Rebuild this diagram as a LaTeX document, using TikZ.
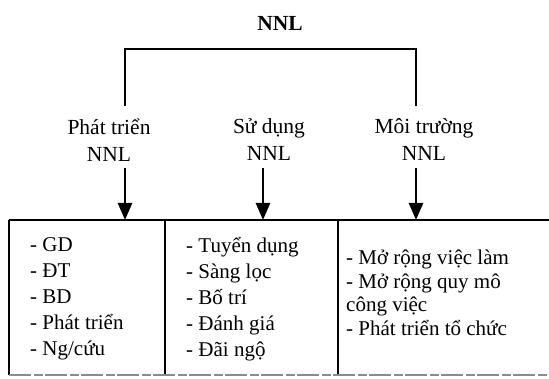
\documentclass[tikz,border=0pt]{standalone}
\usepackage{fontspec}
\setmainfont{Liberation Serif}
\usetikzlibrary{arrows.meta}
\begin{document}
\begin{tikzpicture}[x=1pt,y=1pt,
  txt/.style={inner sep=0pt,font=\fontsize{21.5}{27}\selectfont},
  head/.style={txt,align=center},
  list/.style={inner sep=0pt,font=\fontsize{21}{26}\selectfont,align=left,anchor=west},
  link/.style={line width=2.2pt},
  down/.style={line width=2.6pt,-{Triangle[length=17pt,width=14pt]}},
  frame/.style={line width=1.8pt},
  faint/.style={line width=1.3pt,draw=black!45,dash pattern=on 22pt off 3pt on 9pt off 2pt}]
\useasboundingbox (0,0) rectangle (549,379);

% root and the three branches
\node[txt,font=\fontsize{21.5}{27}\selectfont\bfseries] (root) at (280,356) {NNL};
\node[head] (dev) at (109,239) {Phát triển\\NNL};
\node[head] (use) at (269,239) {Sử dụng\\NNL};
\node[head] (env) at (424,239) {Môi trường\\NNL};

% bracket under the root
\coordinate (bl) at (125,273);
\coordinate (br) at (416,273);
\draw[link] (bl) -- (125,330) -- (416,330) -- (br);

% arrows into the table
\coordinate (a1) at (125,211);
\coordinate (a2) at (263,211);
\coordinate (a3) at (416,211);
\coordinate (t1) at (125,159);
\coordinate (t2) at (263,159);
\coordinate (t3) at (416,159);
\draw[down] (a1) -- (t1);
\draw[down] (a2) -- (t2);
\draw[down] (a3) -- (t3);

% table frame
\coordinate (tl) at (9,159);
\coordinate (tr) at (549,159);
\coordinate (bl2) at (9,4);
\coordinate (brr) at (549,4);
\draw[frame] (tl) -- (tr);
\draw[frame] (tl) -- (bl2);
\draw[frame] (165,159) -- (165,4);
\draw[frame] (338,159) -- (338,4);
\draw[faint] (bl2) -- (brr);

% cell contents
\node[list] (l1) at (30,80) {- GD\\- ĐT\\- BD\\- Phát triển\\- Ng/cứu};
\node[list] (l2) at (186,80) {- Tuyển dụng\\- Sàng lọc\\- Bố trí\\- Đánh giá\\- Đãi ngộ};
\node[list,font=\fontsize{21}{23.5}\selectfont] (l3) at (346,86) {- Mở rộng việc làm\\- Mở rộng quy mô\\công việc\\- Phát triển tổ chức};
\end{tikzpicture}
\end{document}
